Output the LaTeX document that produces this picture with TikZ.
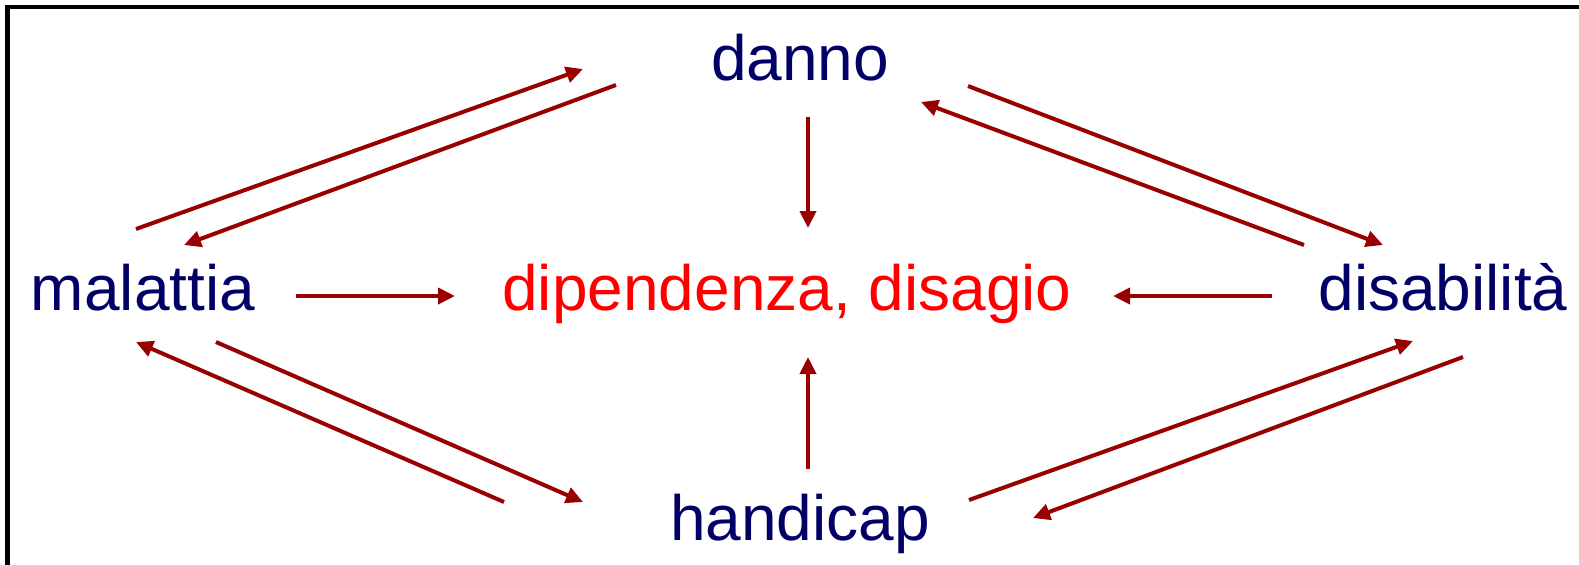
\documentclass[tikz,border=0pt]{standalone}
\usepackage{fontspec}
\setmainfont{Liberation Sans}
\usetikzlibrary{arrows.meta}
\definecolor{navy}{RGB}{0,0,102}
\definecolor{arrred}{RGB}{153,0,0}
\definecolor{txtred}{RGB}{255,0,0}
\tikzset{
  lbl/.style={anchor=base, inner sep=0pt, font=\fontsize{32}{38}\selectfont},
  term/.style={lbl, text=navy},
  center/.style={lbl, text=txtred},
  arr/.style={draw=arrred, line width=2pt, -{Triangle[length=8.5pt,width=8pt]}},
  frame/.style={draw=black, line width=2.2pt}
}
\begin{document}
\begin{tikzpicture}[x=0.5pt,y=-0.5pt]
\useasboundingbox (0,0) rectangle (1579,564);
\begin{scope}
\clip (0,0) rectangle (1579,564);
\draw[frame] (7.5,600) -- (7.5,7) -- (1620,7);
\end{scope}
% nodes
\node[term] (danno) at (800,80) {danno};
\node[term] (mal) at (143,310) {malattia};
\node[center] (dip) at (787,310) {dipendenza, disagio};
\node[term] (dis) at (1443,310) {disabilità};
\node[term] (han) at (800,540) {handicap};
% connector end points
\coordinate (a1s) at (136,229);  \coordinate (a1e) at (583,69);
\coordinate (a2s) at (616,85);   \coordinate (a2e) at (184,245);
\coordinate (a3s) at (808,117);  \coordinate (a3e) at (808,228);
\coordinate (a4s) at (968,86);   \coordinate (a4e) at (1383,245);
\coordinate (a5s) at (1304,245); \coordinate (a5e) at (921,102);
\coordinate (a6s) at (296,296);  \coordinate (a6e) at (455,296);
\coordinate (a7s) at (1272,296); \coordinate (a7e) at (1113,296);
\coordinate (a8s) at (808,469);  \coordinate (a8e) at (808,357);
\coordinate (a9s) at (216,342);  \coordinate (a9e) at (583,502);
\coordinate (a10s) at (504,502); \coordinate (a10e) at (136,342);
\coordinate (a11s) at (969,500); \coordinate (a11e) at (1413,341);
\coordinate (a12s) at (1463,357);\coordinate (a12e) at (1033,518);
% connectors
\draw[arr] (a1s) -- (a1e);
\draw[arr] (a2s) -- (a2e);
\draw[arr] (a3s) -- (a3e);
\draw[arr] (a4s) -- (a4e);
\draw[arr] (a5s) -- (a5e);
\draw[arr] (a6s) -- (a6e);
\draw[arr] (a7s) -- (a7e);
\draw[arr] (a8s) -- (a8e);
\draw[arr] (a9s) -- (a9e);
\draw[arr] (a10s) -- (a10e);
\draw[arr] (a11s) -- (a11e);
\draw[arr] (a12s) -- (a12e);
\end{tikzpicture}
\end{document}
